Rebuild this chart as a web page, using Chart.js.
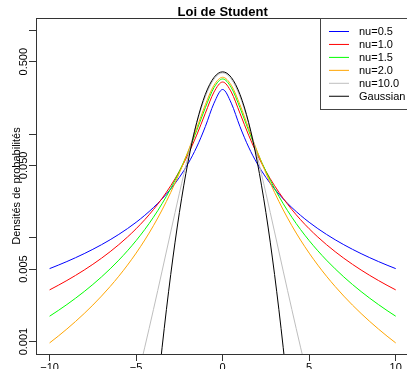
<!DOCTYPE html>
<html lang="fr">
<head>
<meta charset="UTF-8">
<title>Loi de Student</title>
<script src="https://cdn.jsdelivr.net/npm/chart.js"></script>
<style>
    html, body {
        margin: 0;
        padding: 0;
        background: #fff;
        overflow: hidden;
    }
    #chart {
        position: absolute;
        left: 0;
        top: 0;
    }
</style>
</head>
<body>
<canvas id="chart" width="412" height="369"></canvas>
<script>
    // abscisses (pas de 0.5)
    const xs = [-10,-9.5,-9,-8.5,-8,-7.5,-7,-6.5,-6,-5.5,-5,-4.5,-4,-3.5,-3,-2.5,-2,-1.5,-1,-0.5,
        0,0.5,1,1.5,2,2.5,3,3.5,4,4.5,5,5.5,6,6.5,7,7.5,8,8.5,9,9.5,10];

    const nu05 = [0.0050529,0.0054547,0.0059129,0.0064386,0.0070467,0.0077567,0.0085941,0.0095932,0.010801,0.012282,
        0.014133,0.016496,0.019591,0.023769,0.029640,0.038290,0.051899,0.075090,0.11830,0.19896,
        0.26968,
        0.19896,0.11830,0.075090,0.051899,0.038290,0.029640,0.023769,0.019591,0.016496,0.014133,
        0.012282,0.010801,0.0095932,0.0085941,0.0077567,0.0070467,0.0064386,0.0059129,0.0054547,0.0050529];

    const nu10 = [0.0031516,0.0034883,0.0038818,0.0043456,0.0048971,0.0055600,0.0063662,0.0073598,0.0086030,0.010186,
        0.012243,0.014979,0.018724,0.024023,0.031831,0.043905,0.063662,0.097942,0.15915,0.25465,
        0.31831,
        0.25465,0.15915,0.097942,0.063662,0.043905,0.031831,0.024023,0.018724,0.014979,0.012243,
        0.010186,0.0086030,0.0073598,0.0063662,0.0055600,0.0048971,0.0043456,0.0038818,0.0034883,0.0031516];

    const nu15 = [0.0017563,0.0019925,0.0022757,0.0026181,0.0030365,0.0035535,0.0042023,0.0050276,0.0060954,0.0075068,
        0.0094091,0.012045,0.015806,0.021363,0.029931,0.043743,0.067155,0.10840,0.17993,0.28102,
        0.34074,
        0.28102,0.17993,0.10840,0.067155,0.043743,0.029931,0.021363,0.015806,0.012045,0.0094091,
        0.0075068,0.0060954,0.0050276,0.0042023,0.0035535,0.0030365,0.0026181,0.0022757,0.0019925,0.0017563];

    const nu20 = [0.00097073,0.0011286,0.0013225,0.0015630,0.0018650,0.0022493,0.0027456,0.0033973,0.0042690,0.0054602,
        0.0071278,0.0095281,0.013095,0.018590,0.027410,0.042201,0.068041,0.11413,0.19245,0.29630,
        0.35355,
        0.29630,0.19245,0.11413,0.068041,0.042201,0.027410,0.018590,0.013095,0.0095281,0.0071278,
        0.0054602,0.0042690,0.0033973,0.0027456,0.0022493,0.0018650,0.0015630,0.0013225,0.0011286,0.00097073];

    const nu100 = [7.29e-7,1.21e-6,2.07e-6,3.60e-6,6.44e-6,1.184e-5,2.241e-5,4.372e-5,8.814e-5,1.8371e-4,
        3.9623e-4,8.8351e-4,0.0020317,0.0047838,0.011402,0.026936,0.061147,0.12745,0.23036,0.33969,
        0.38911,
        0.33969,0.23036,0.12745,0.061147,0.026936,0.011402,0.0047838,0.0020317,8.8351e-4,3.9623e-4,
        1.8371e-4,8.814e-5,4.372e-5,2.241e-5,1.184e-5,6.44e-6,3.60e-6,2.07e-6,1.21e-6,7.29e-7];

    const gauss = [7.7e-23,1.0e-20,1.03e-18,8.2e-17,5.05e-15,2.43e-13,9.13e-12,2.67e-10,6.076e-9,1.077e-7,
        1.4867e-6,1.5984e-5,1.3383e-4,8.7268e-4,0.0044318,0.017528,0.053991,0.12952,0.24197,0.35207,
        0.39894,
        0.35207,0.24197,0.12952,0.053991,0.017528,0.0044318,8.7268e-4,1.3383e-4,1.5984e-5,1.4867e-6,
        1.077e-7,6.076e-9,2.67e-10,9.13e-12,2.43e-13,5.05e-15,8.2e-17,1.03e-18,1.0e-20,7.7e-23];

    const seriesNames = ['nu=0.5', 'nu=1.0', 'nu=1.5', 'nu=2.0', 'nu=10.0', 'Gaussian'];
    const seriesValues = [nu05, nu10, nu15, nu20, nu100, gauss];
    const seriesColors = ['#0000ff', '#ff0000', '#00ff00', '#ffa500', '#bebebe', '#000000'];

    const xTicks = [-10, -5, 0, 5, 10];
    const yTicks = [0.001, 0.005, 0.01, 0.05, 0.1, 0.5, 1];
    const yLabels = {0.001: '0.001', 0.005: '0.005', 0.05: '0.050', 0.5: '0.500'};

    const FONT = '"Liberation Sans", Arial, Helvetica, sans-serif';
    Chart.defaults.font.family = FONT;
    Chart.defaults.color = '#000';

    const datasets = seriesNames.map((name, i) => ({
        label: name,
        data: xs.map((x, k) => ({x: x, y: seriesValues[i][k]})),
        borderColor: seriesColors[i],
        borderWidth: 1,
        pointRadius: 0,
        fill: false,
        cubicInterpolationMode: 'monotone',
        order: seriesNames.length - 1 - i
    }));

    // titre, axe des y tourné, cadre et légende dessinés à la main
    const decor = {
        id: 'decor',
        afterDraw(chart) {
            const ctx = chart.ctx;
            const area = chart.chartArea;
            const yScale = chart.scales.y;
            ctx.save();

            ctx.strokeStyle = '#333';
            ctx.lineWidth = 1;
            ctx.beginPath();
            ctx.moveTo(area.left, 18.5);
            ctx.lineTo(area.right, 18.5);
            ctx.stroke();

            ctx.fillStyle = '#000';
            ctx.font = 'bold 13px ' + FONT;
            ctx.textAlign = 'center';
            ctx.textBaseline = 'alphabetic';
            ctx.fillText('Loi de Student', (area.left + area.right) / 2, 16);

            ctx.font = '11px ' + FONT;
            yTicks.forEach(v => {
                if (!yLabels[v]) return;
                const py = yScale.getPixelForValue(v);
                ctx.save();
                ctx.translate(27, py);
                ctx.rotate(-Math.PI / 2);
                ctx.fillText(yLabels[v], 0, 0);
                ctx.restore();
            });

            ctx.save();
            ctx.translate(19.5, (area.top + area.bottom) / 2);
            ctx.rotate(-Math.PI / 2);
            ctx.fillText('Densités de probabilités', 0, 0);
            ctx.restore();

            // légende
            ctx.fillStyle = '#fff';
            ctx.fillRect(320, 18, 100, 91);
            ctx.strokeStyle = '#444';
            ctx.strokeRect(320.5, 18.5, 100, 91);
            ctx.textAlign = 'left';
            ctx.textBaseline = 'middle';
            seriesNames.forEach((name, i) => {
                const ly = 31.5 + i * 12.95;
                ctx.strokeStyle = seriesColors[i];
                ctx.beginPath();
                ctx.moveTo(329, ly);
                ctx.lineTo(349, ly);
                ctx.stroke();
                ctx.fillStyle = '#000';
                ctx.fillText(name, 359, ly + 0.5);
            });
            ctx.restore();
        }
    };

    new Chart(document.getElementById('chart'), {
        type: 'line',
        data: {datasets: datasets},
        options: {
            responsive: false,
            animation: false,
            devicePixelRatio: 1,
            layout: {padding: {left: 0, right: 2.7, top: 18, bottom: 0}},
            plugins: {
                legend: {display: false},
                title: {display: false},
                tooltip: {enabled: false}
            },
            scales: {
                x: {
                    type: 'linear',
                    min: -10.785,
                    max: 10.785,
                    afterBuildTicks: scale => {
                        scale.ticks = xTicks.map(v => ({value: v}));
                    },
                    afterFit: scale => { scale.height = 15; },
                    ticks: {
                        font: {size: 11},
                        color: '#000',
                        padding: 0,
                        maxRotation: 0,
                        callback: v => (v < 0 ? '\u2212' + Math.abs(v) : String(v))
                    },
                    grid: {
                        drawOnChartArea: false,
                        drawTicks: true,
                        tickLength: 7,
                        color: '#333'
                    },
                    border: {color: '#333', width: 1}
                },
                y: {
                    type: 'logarithmic',
                    min: 0.000759,
                    max: 1.3183,
                    afterBuildTicks: scale => {
                        scale.ticks = yTicks.map(v => ({value: v}));
                    },
                    afterFit: scale => { scale.width = 36; },
                    ticks: {display: false},
                    grid: {
                        drawOnChartArea: false,
                        drawTicks: true,
                        tickLength: 7,
                        color: '#333'
                    },
                    border: {color: '#333', width: 1}
                }
            }
        },
        plugins: [decor]
    });
</script>
</body>
</html>
